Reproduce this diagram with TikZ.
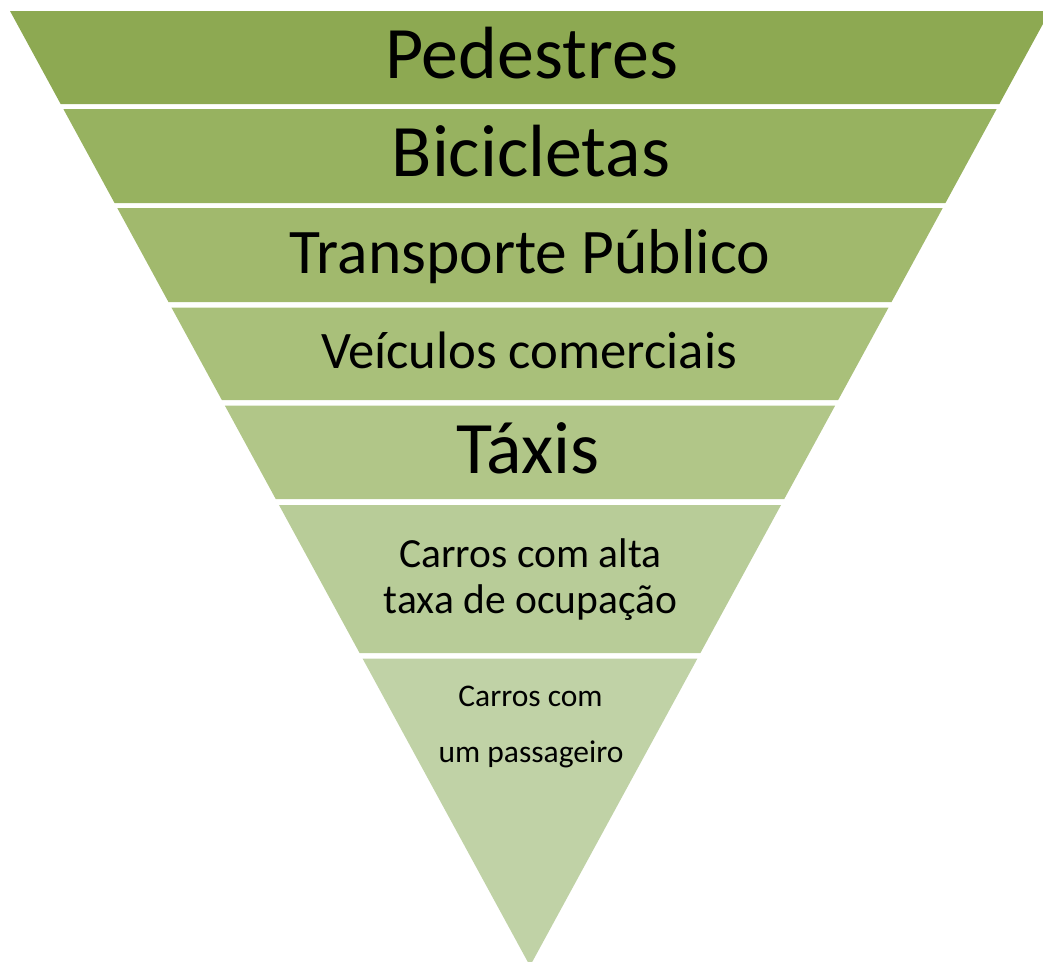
\documentclass[tikz,border=0pt]{standalone}
\usepackage{fontspec}
\setmainfont{Carlito}
\definecolor{c1}{RGB}{141,169,82}
\definecolor{c2}{RGB}{151,178,96}
\definecolor{c3}{RGB}{161,185,109}
\definecolor{c4}{RGB}{169,192,122}
\definecolor{c5}{RGB}{177,198,136}
\definecolor{c6}{RGB}{184,204,152}
\definecolor{c7}{RGB}{192,210,166}
\tikzset{
  lbl/.style={anchor=base, inner sep=0pt, text=black},
}
\begin{document}
\begin{tikzpicture}[x=1pt,y=-1pt]
\useasboundingbox (0,0) rectangle (1043,961);
\begin{scope}
\clip (0,0) rectangle (1043,961);
\foreach \ta/\tb/\col in {11/104/c1, 109/203/c2, 208/302/c3, 307.5/400/c4, 405.5/499/c5, 505/653/c6, 658.5/966/c7}{
  \pgfmathsetmacro{\ha}{0.5445*(966-\ta)}
  \pgfmathsetmacro{\hb}{0.5445*(966-\tb)}
  \fill[\col] (530-\ha,\ta) -- (530+\ha,\ta) -- (530+\hb,\tb) -- (530-\hb,\tb) -- cycle;
}
\end{scope}
\node[lbl, font=\fontsize{74}{80}\selectfont] (t1) at (531.5,78.3) {Pedestres};
\node[lbl, font=\fontsize{74}{80}\selectfont] (t2) at (531,176.7) {Bicicletas};
\node[lbl, font=\fontsize{63.5}{70}\selectfont] (t3) at (530,273.3) {Transporte Público};
\node[lbl, font=\fontsize{52.7}{60}\selectfont] (t4) at (529,368.3) {Veículos comerciais};
\node[lbl, font=\fontsize{74}{80}\selectfont] (t5) at (527.5,473.3) {Táxis};
\node[lbl, font=\fontsize{41.5}{48}\selectfont] (t6a) at (530.5,567) {Carros com alta};
\node[lbl, font=\fontsize{41.5}{48}\selectfont] (t6b) at (530.5,613) {taxa de ocupação};
\node[lbl, font=\fontsize{31.5}{36}\selectfont] (t7a) at (530.5,706) {Carros com};
\node[lbl, font=\fontsize{31.5}{36}\selectfont] (t7b) at (531,762) {um passageiro};
\end{tikzpicture}
\end{document}
